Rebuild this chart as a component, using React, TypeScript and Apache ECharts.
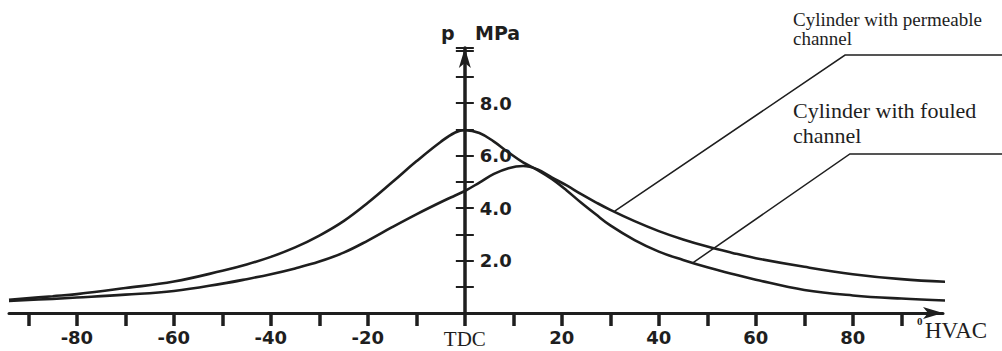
import React, { useEffect, useRef } from "react";
import * as echarts from "echarts";

// Crank angle (degrees, 0 = TDC) and cylinder pressure (MPa)
const crankAngle = [-94, -85, -80, -70, -60, -50, -45, -40, -35, -30, -25, -20, -15, -10, -5, -2, 0, 3, 6, 9, 12, 15, 18, 21, 24, 27, 30, 35, 40, 45, 50, 55, 60, 70, 80, 90, 100];
const fouledPressure = [0.50, 0.64, 0.72, 0.95, 1.20, 1.61, 1.85, 2.14, 2.50, 2.95, 3.50, 4.20, 4.98, 5.78, 6.52, 6.88, 6.97, 6.86, 6.53, 6.12, 5.74, 5.45, 5.10, 4.67, 4.20, 3.76, 3.34, 2.78, 2.34, 2.02, 1.74, 1.50, 1.27, 0.88, 0.67, 0.55, 0.47];
const permeablePressure = [0.46, 0.54, 0.59, 0.70, 0.84, 1.12, 1.29, 1.48, 1.70, 1.96, 2.30, 2.76, 3.27, 3.76, 4.22, 4.48, 4.65, 4.97, 5.30, 5.52, 5.60, 5.47, 5.16, 4.86, 4.53, 4.22, 3.93, 3.50, 3.12, 2.80, 2.53, 2.30, 2.09, 1.76, 1.48, 1.29, 1.18];

const xTickValues = [-90, -80, -70, -60, -50, -40, -30, -20, -10, 0, 10, 20, 30, 40, 50, 60, 70, 80, 90];
const xLabelValues = [-80, -60, -40, -20, 0, 20, 40, 60, 80];
const yLabelValues = [2, 4, 6, 8];

const permeableLabel = ["Cylinder with permeable", "channel"];
const fouledLabel = ["Cylinder with fouled", "channel"];
// leader anchors in data space: [point on curve, elbow]
const permeableLeader = [[30.9, 3.88], [78.4, 9.83]];
const fouledLeader = [[47, 1.91], [79.4, 6.06]];

const INK = "#1e1e1e";
const X_MIN = -94;
const X_MAX = 98.6;
const GRID = { left: 9, right: 59, top: 48, bottom: 38 };
const WIDTH = 1002;
const HEIGHT = 351;

export default function App() {
  const ref = useRef<HTMLDivElement>(null);

  useEffect(() => {
    if (!ref.current) return;
    const chart = echarts.init(ref.current, undefined, { renderer: "svg" });
    const toPairs = (ys: number[]) => crankAngle.map((x, i) => [x, ys[i]]);

    // place the pressure axis at TDC (x = 0) by offsetting it into the grid
    const gridW = WIDTH - GRID.left - GRID.right;
    const yOffset = -((0 - X_MIN) / (X_MAX - X_MIN)) * gridW;

    const yCommon = {
      type: "value",
      min: 0,
      max: 10.1,
      interval: 1,
      position: "left",
      offset: yOffset,
      splitLine: { show: false },
    };

    chart.setOption({
      animation: false,
      backgroundColor: "#ffffff",
      grid: GRID,
      xAxis: {
        type: "value",
        min: X_MIN,
        max: X_MAX,
        splitLine: { show: false },
        axisLine: {
          onZero: false,
          lineStyle: { color: INK, width: 3 },
          symbol: ["none", "arrow"],
          symbolSize: [9, 20],
        },
        axisTick: { show: true, customValues: xTickValues, length: 13, lineStyle: { color: INK, width: 3.5 } },
        axisLabel: {
          customValues: xLabelValues,
          margin: 15,
          fontFamily: "DejaVu Sans",
          fontWeight: "bold",
          fontSize: 18,
          color: INK,
          formatter: (v: number) => (v === 0 ? "{t|TDC}" : String(v)),
          rich: { t: { fontFamily: "Liberation Serif", fontWeight: "normal", fontSize: 21, color: INK } },
        },
      },
      yAxis: [
        {
          ...yCommon,
          axisLine: {
            onZero: false,
            lineStyle: { color: INK, width: 3.5 },
            symbol: ["none", "arrow"],
            symbolSize: [9, 20],
          },
          axisTick: { inside: true, length: 9, lineStyle: { color: INK, width: 2 } },
          axisLabel: {
            inside: true,
            margin: 15,
            fontFamily: "DejaVu Sans",
            fontWeight: "bold",
            fontSize: 18,
            color: INK,
            formatter: (v: number) => (yLabelValues.includes(v) ? v.toFixed(1) : ""),
          },
        },
        {
          ...yCommon,
          axisLine: { show: false, onZero: false },
          axisTick: { inside: false, length: 9, lineStyle: { color: INK, width: 2 } },
          axisLabel: { show: false },
        },
      ],
      series: [
        {
          name: "Cylinder with fouled channel",
          type: "line",
          data: toPairs(fouledPressure),
          smooth: 0.4,
          showSymbol: false,
          clip: false,
          lineStyle: { color: INK, width: 2.6 },
        },
        {
          name: "Cylinder with permeable channel",
          type: "line",
          data: toPairs(permeablePressure),
          smooth: 0.4,
          showSymbol: false,
          clip: false,
          lineStyle: { color: INK, width: 2.6 },
        },
      ],
    });

    const W = chart.getWidth();
    const px = (p: number[]) => chart.convertToPixel({ xAxisIndex: 0, yAxisIndex: 0 }, p) as number[];
    const leader = (pts: number[][]) => {
      const a = px(pts[0]);
      const e = px(pts[1]);
      return {
        type: "polyline",
        silent: true,
        shape: { points: [a, e, [W, e[1]]] },
        style: { stroke: INK, lineWidth: 1.5, fill: null },
      };
    };
    const txt = (text: string, x: number, y: number, font: string) => ({
      type: "text",
      x,
      y,
      silent: true,
      style: { text, font, fill: INK, verticalAlign: "middle", align: "left" },
    });

    chart.setOption({
      graphic: [
        leader(permeableLeader),
        leader(fouledLeader),
        txt("p", 441, 33, 'bold 19px "DejaVu Sans"'),
        txt("MPa", 475, 33, 'bold 19px "DejaVu Sans"'),
        txt("0", 917, 321, 'bold 11px "Liberation Serif"'),
        txt("HVAC", 925, 330, '23px "Liberation Serif"'),
        txt(permeableLabel[0], 793, 19, '19px "Liberation Serif"'),
        txt(permeableLabel[1], 793, 38, '19px "Liberation Serif"'),
        txt(fouledLabel[0], 793, 110, '22px "Liberation Serif"'),
        txt(fouledLabel[1], 793, 135, '22px "Liberation Serif"'),
      ],
    });

    return () => chart.dispose();
  }, []);

  return (
    <div
      ref={ref}
      style={{ position: "fixed", left: 0, top: 0, width: WIDTH, height: HEIGHT, background: "#fff" }}
    />
  );
}
